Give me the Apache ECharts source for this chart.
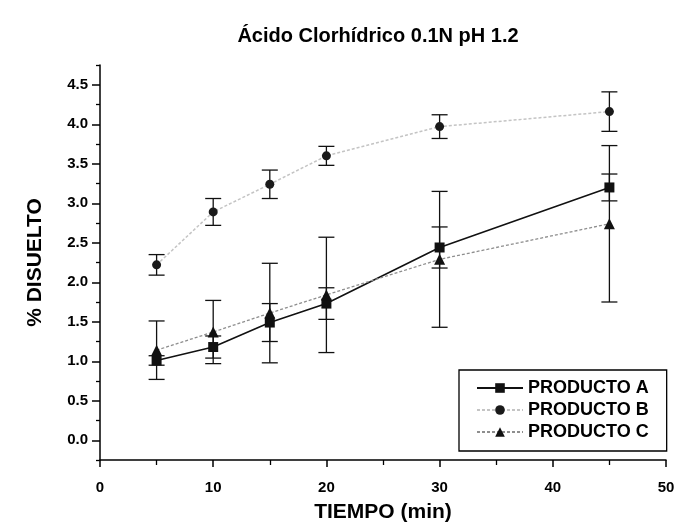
<!DOCTYPE html>
<html>
<head>
<meta charset="utf-8">
<script src="https://cdn.jsdelivr.net/npm/echarts@6/dist/echarts.min.js"></script>
<style>
  html, body { margin: 0; padding: 0; background: #fff; }
  #chart { width: 682px; height: 528px; }
</style>
</head>
<body>
<div id="chart"></div>
<script>
// Dissolution over time in 0.1N HCl (pH 1.2), mean ± SD
const tiempos = [5, 10, 15, 20, 30, 45];

const productoA = [1.01, 1.18, 1.49, 1.73, 2.44, 3.20];
const errorA    = [0.06, 0.14, 0.24, 0.20, 0.26, 0.17];

const productoB = [2.22, 2.89, 3.24, 3.60, 3.97, 4.16];
const errorB    = [0.13, 0.17, 0.18, 0.12, 0.15, 0.25];

const productoC = [1.14, 1.37, 1.61, 1.84, 2.29, 2.74];
const errorC    = [0.37, 0.40, 0.63, 0.73, 0.86, 0.99];

const xMajorTicks = [0, 10, 20, 30, 40, 50];
const xMinorTicks = [5, 15, 25, 35, 45];
const yMajorTicks = [0, 0.5, 1, 1.5, 2, 2.5, 3, 3.5, 4, 4.5];
const yMinorTicks = [-0.25, 0.25, 0.75, 1.25, 1.75, 2.25, 2.75, 3.25, 3.75, 4.25, 4.75];

const FONT = '"Liberation Sans", Arial, sans-serif';

const pairs = (xs, ys) => xs.map((x, i) => [x, ys[i]]);
const triples = (xs, ys, es) => xs.map((x, i) => [x, ys[i], es[i]]);

function renderErrorBar(params, api) {
  const x = api.value(0), y = api.value(1), e = api.value(2);
  const hi = api.coord([x, y + e]);
  const lo = api.coord([x, y - e]);
  const hw = 8;
  const st = { stroke: '#111', lineWidth: 1.3 };
  return {
    type: 'group',
    children: [
      { type: 'line', shape: { x1: hi[0], y1: hi[1], x2: lo[0], y2: lo[1] }, style: st },
      { type: 'line', shape: { x1: hi[0] - hw, y1: hi[1], x2: hi[0] + hw, y2: hi[1] }, style: st },
      { type: 'line', shape: { x1: lo[0] - hw, y1: lo[1], x2: lo[0] + hw, y2: lo[1] }, style: st }
    ]
  };
}

function errorSeries(name, xs, ys, es) {
  return {
    type: 'custom',
    name: name,
    renderItem: renderErrorBar,
    data: triples(xs, ys, es),
    encode: { x: 0, y: 1 },
    z: 1,
    silent: true
  };
}

const axisLineStyle = { color: '#000', width: 1.5 };
const labelStyle = { color: '#000', fontFamily: FONT, fontWeight: 'bold', fontSize: 15 };

const chart = echarts.init(document.getElementById('chart'), null, { renderer: 'canvas' });

chart.setOption({
  backgroundColor: '#fff',
  animation: false,
  title: {
    text: 'Ácido Clorhídrico 0.1N pH 1.2',
    left: 373,
    top: 21,
    textAlign: 'center',
    textStyle: { color: '#000', fontFamily: FONT, fontWeight: 'bold', fontSize: 20 }
  },
  grid: { left: 100, right: 16, top: 65, bottom: 68 },
  xAxis: [
    {
      type: 'value', min: 0, max: 50,
      name: 'TIEMPO (min)', nameLocation: 'middle', nameGap: 42,
      nameTextStyle: { color: '#000', fontFamily: FONT, fontWeight: 'bold', fontSize: 21 },
      axisLine: { show: true, onZero: false, lineStyle: axisLineStyle },
      axisTick: { show: true, length: 7, lineStyle: { color: '#000', width: 1.5 }, customValues: xMajorTicks },
      axisLabel: Object.assign({ margin: 20, customValues: xMajorTicks }, labelStyle),
      splitLine: { show: false }
    },
    {
      type: 'value', min: 0, max: 50, position: 'bottom',
      axisLine: { show: false, onZero: false },
      axisTick: { show: true, length: 5, lineStyle: { color: '#000', width: 1.3 }, customValues: xMinorTicks },
      axisLabel: { show: false },
      splitLine: { show: false }
    }
  ],
  yAxis: [
    {
      type: 'value', min: -0.25, max: 4.75,
      name: '% DISUELTO', nameLocation: 'middle', nameGap: 54,
      nameTextStyle: { color: '#000', fontFamily: FONT, fontWeight: 'bold', fontSize: 21 },
      axisLine: { show: true, onZero: false, lineStyle: axisLineStyle },
      axisTick: { show: true, length: 8, lineStyle: { color: '#000', width: 1.5 }, customValues: yMajorTicks },
      axisLabel: Object.assign({ margin: 12, customValues: yMajorTicks, formatter: v => v.toFixed(1) }, labelStyle),
      splitLine: { show: false }
    },
    {
      type: 'value', min: -0.25, max: 4.75, position: 'left',
      axisLine: { show: false, onZero: false },
      axisTick: { show: true, length: 4, lineStyle: { color: '#000', width: 1.3 }, customValues: yMinorTicks },
      axisLabel: { show: false },
      splitLine: { show: false }
    }
  ],
  legend: {
    orient: 'vertical',
    left: 459,
    top: 370,
    data: ['PRODUCTO A', 'PRODUCTO B', 'PRODUCTO C'],
    itemWidth: 46,
    itemHeight: 12,
    itemGap: 4,
    padding: [9, 18, 10, 17],
    borderColor: '#000',
    borderWidth: 1.3,
    backgroundColor: '#fff',
    textStyle: { color: '#000', fontFamily: FONT, fontWeight: 'bold', fontSize: 18 }
  },
  series: [
    errorSeries('errA', tiempos, productoA, errorA),
    errorSeries('errB', tiempos, productoB, errorB),
    errorSeries('errC', tiempos, productoC, errorC),
    {
      type: 'line',
      name: 'PRODUCTO A',
      data: pairs(tiempos, productoA),
      symbol: 'rect',
      symbolSize: 10,
      itemStyle: { color: '#111' },
      lineStyle: { color: '#111', width: 1.6 },
      z: 4
    },
    {
      type: 'line',
      name: 'PRODUCTO B',
      data: pairs(tiempos, productoB),
      symbol: 'circle',
      symbolSize: 9,
      itemStyle: { color: '#1a1a1a' },
      lineStyle: { color: '#c4c4c4', width: 1.5, type: [3, 2] },
      z: 3
    },
    {
      type: 'line',
      name: 'PRODUCTO C',
      data: pairs(tiempos, productoC),
      symbol: 'triangle',
      symbolSize: 11,
      itemStyle: { color: '#111' },
      lineStyle: { color: '#8e8e8e', width: 1.3, type: [3, 2] },
      z: 4
    }
  ]
});
</script>
</body>
</html>
